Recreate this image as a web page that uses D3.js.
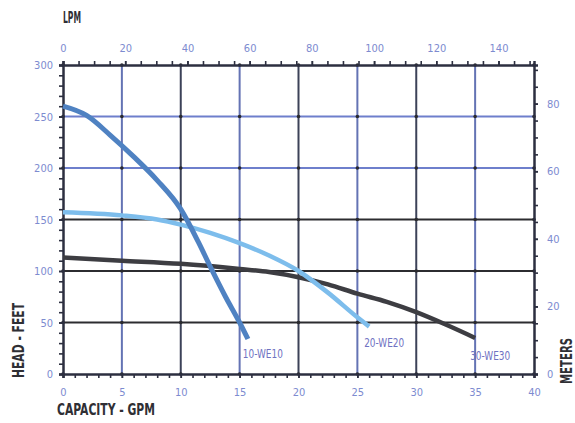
<!DOCTYPE html>
<html>
<head>
<meta charset="utf-8">
<script src="https://cdn.jsdelivr.net/npm/d3@7"></script>
<style>
  body { margin: 0; background: #fff; }
  svg { display: block; }
  .tick text { fill: #7d8bd0; font-family: "DejaVu Sans Condensed", "Liberation Sans Narrow", sans-serif; font-size: 11px; }
  .title { fill: #2f2f35; font-family: "DejaVu Sans Condensed", "Liberation Sans Narrow", sans-serif; font-weight: bold; font-size: 15px; }
  .lbl { fill: #6f72c2; font-family: "DejaVu Sans Condensed", "Liberation Sans Narrow", sans-serif; font-size: 12px; }
</style>
</head>
<body>
<svg width="575" height="423"></svg>
<script>
// capacity (GPM) vs head (feet)
const we10 = [[0, 260], [2, 251], [4, 232], [6, 211], [8, 188], [10, 160], [11.5, 128], [12.6, 102], [13.8, 75], [15, 50], [15.7, 34]];
const we20 = [[0, 157], [5, 154], [8, 150], [10, 145], [12.5, 137], [15, 127], [17.5, 115], [20, 100], [22.5, 79], [25, 55], [26, 46]];
const we30 = [[0, 113], [5, 110], [10, 107], [15, 102], [17.5, 99], [20, 94], [22.5, 87], [25, 78], [27.5, 70], [30, 60], [32.5, 48], [35, 35]];

const seriesNames = ['10-WE10', '20-WE20', '30-WE30'];
const gpmTicks = [0, 5, 10, 15, 20, 25, 30, 35, 40];
const feetTicks = [0, 50, 100, 150, 200, 250, 300];
const lpmTicks = [0, 20, 40, 60, 80, 100, 120, 140];
const meterTicks = [0, 20, 40, 60, 80];

const GAL_L = 3.78541;
const FT_M = 0.3048;

const svg = d3.select('svg');

const x = d3.scaleLinear().domain([0, 40]).range([63, 534]);
const y = d3.scaleLinear().domain([0, 300]).range([374, 65]);
const xL = d3.scaleLinear().domain([0, 40 * GAL_L]).range([63, 534]);
const yM = d3.scaleLinear().domain([0, 300 * FT_M]).range([374, 65]);

// grid
const grid = svg.append('g').attr('class', 'grid');
grid.selectAll('line.v')
  .data(gpmTicks.slice(1, -1))
  .enter()
  .append('line')
  .attr('x1', d => x(d)).attr('x2', d => x(d))
  .attr('y1', y(0)).attr('y2', y(300))
  .attr('stroke', d => d % 10 === 0 ? '#3c4258' : '#6473b4')
  .attr('stroke-width', 2);

grid.selectAll('line.h')
  .data(feetTicks.slice(1, -1))
  .enter()
  .append('line')
  .attr('x1', x(0)).attr('x2', x(40))
  .attr('y1', d => y(d)).attr('y2', d => y(d))
  .attr('stroke', d => d >= 200 ? '#6e7fcc' : '#2c2c30')
  .attr('stroke-width', 2);

// dots where the grid lines cross
const crossings = [];
gpmTicks.forEach(g => feetTicks.forEach(f => crossings.push([g, f])));
grid.selectAll('circle')
  .data(crossings)
  .enter()
  .append('circle')
  .attr('cx', d => x(d[0]))
  .attr('cy', d => y(d[1]))
  .attr('r', 1.8)
  .attr('fill', '#2a2a2e');

// axes
function styleAxis(g) {
  g.select('.domain').attr('stroke', '#2c2f40').attr('stroke-width', 2);
  g.selectAll('.tick line').attr('stroke', '#2c2f40').attr('stroke-width', 1.6);
}

svg.append('g')
  .attr('transform', `translate(${x(0)},0)`)
  .call(d3.axisLeft(y).tickValues(d3.range(0, 301, 10)).tickSize(4).tickFormat(''))
  .call(styleAxis);
svg.append('g')
  .attr('transform', `translate(${x(0)},0)`)
  .call(d3.axisLeft(y).tickValues(feetTicks).tickSize(4).tickPadding(6))
  .call(styleAxis);

svg.append('g')
  .attr('transform', `translate(0,${y(0)})`)
  .call(d3.axisBottom(x).tickValues(d3.range(0, 41, 1)).tickSize(4).tickFormat(''))
  .call(styleAxis);
svg.append('g')
  .attr('transform', `translate(0,${y(0)})`)
  .call(d3.axisBottom(x).tickValues(gpmTicks).tickSize(4).tickPadding(10))
  .call(styleAxis);

svg.append('g')
  .attr('transform', `translate(0,${y(300)})`)
  .call(d3.axisTop(xL).tickValues(d3.range(0, 151, 5)).tickSize(4).tickFormat(''))
  .call(styleAxis);
svg.append('g')
  .attr('transform', `translate(0,${y(300)})`)
  .call(d3.axisTop(xL).tickValues(lpmTicks).tickSize(4).tickPadding(9))
  .call(styleAxis);

svg.append('g')
  .attr('transform', `translate(${x(40)},0)`)
  .call(d3.axisRight(yM).tickValues(d3.range(0, 91, 5)).tickSize(4).tickFormat(''))
  .call(styleAxis);
svg.append('g')
  .attr('transform', `translate(${x(40)},0)`)
  .call(d3.axisRight(yM).tickValues(meterTicks).tickSize(4).tickPadding(9))
  .call(styleAxis);

// pump curves
const line = d3.line()
  .x(d => x(d[0]))
  .y(d => y(d[1]))
  .curve(d3.curveMonotoneX);

const curves = [
  { data: we30, color: '#3d3d42', width: 4.5 },
  { data: we20, color: '#7dbdec', width: 4.5 },
  { data: we10, color: '#4f82c2', width: 5 }
];

svg.append('g')
  .selectAll('path')
  .data(curves)
  .enter()
  .append('path')
  .attr('d', d => line(d.data))
  .attr('fill', 'none')
  .attr('stroke', d => d.color)
  .attr('stroke-width', d => d.width)
  .attr('stroke-linecap', 'butt');

// series labels, placed below each curve's end point
const ends = [we10, we20, we30].map(s => s[s.length - 1]);
svg.append('g')
  .selectAll('text')
  .data(seriesNames)
  .enter()
  .append('text')
  .attr('class', 'lbl')
  .attr('x', (d, i) => x(ends[i][0]) - 5)
  .attr('y', (d, i) => y(ends[i][1]) + [19, 20, 22][i])
  .attr('textLength', 40)
  .attr('lengthAdjust', 'spacingAndGlyphs')
  .text(d => d);

// axis titles
svg.append('text').attr('class', 'title').attr('x', 63).attr('y', 23)
  .attr('textLength', 18).attr('lengthAdjust', 'spacingAndGlyphs').text('LPM');
svg.append('text').attr('class', 'title').attr('x', 57).attr('y', 415)
  .attr('textLength', 98).attr('lengthAdjust', 'spacingAndGlyphs').text('CAPACITY - GPM');
svg.append('text').attr('class', 'title')
  .attr('transform', 'translate(24,378) rotate(-90)')
  .attr('textLength', 75).attr('lengthAdjust', 'spacingAndGlyphs')
  .text('HEAD - FEET');
svg.append('text').attr('class', 'title')
  .attr('transform', 'translate(572,384) rotate(-90)')
  .attr('textLength', 46).attr('lengthAdjust', 'spacingAndGlyphs')
  .text('METERS');
</script>
</body>
</html>
